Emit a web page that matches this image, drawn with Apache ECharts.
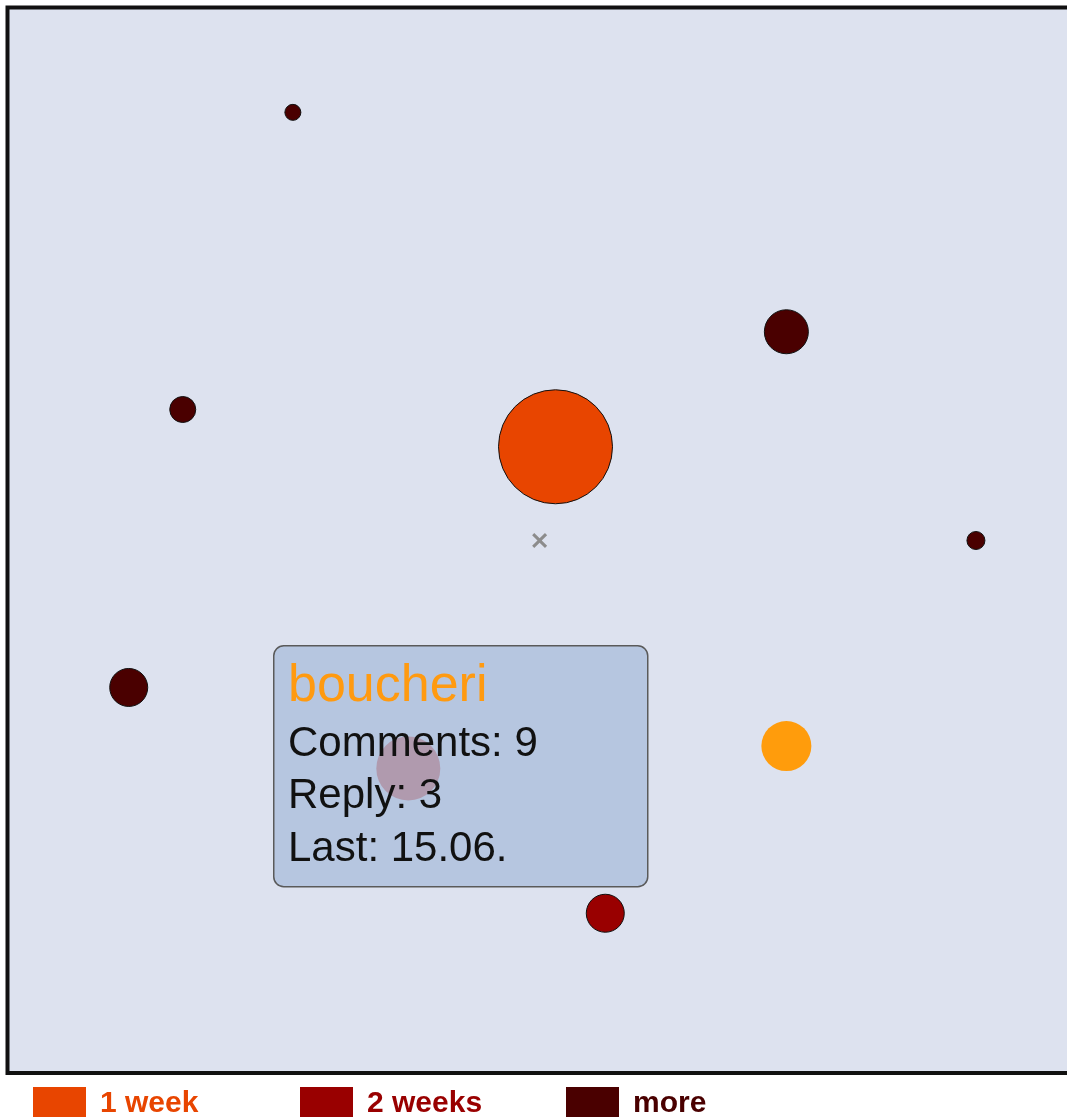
<!DOCTYPE html>
<html>
<head>
<meta charset="utf-8">
<script src="https://cdn.jsdelivr.net/npm/echarts@6/dist/echarts.min.js"></script>
<style>
  html, body { margin: 0; padding: 0; background: #fff; }
  #chart { width: 1067px; height: 1117px; }
</style>
</head>
<body>
<div id="chart"></div>
<script>
// age groups shown in the legend
const groups = ["1 week", "2 weeks", "more"];

// users: position in the field, bubble size, age group index
const pointX = [26.9, 16.5, 73.5, 51.7, 91.4, 11.4, 56.4];
const pointY = [90.2, 62.3, 69.6, 58.8, 50.0, 36.2, 15.0];
const pointSize = [16, 26, 44, 114, 18, 38, 38];
const pointGroup = [2, 2, 2, 0, 2, 2, 1];

// highlighted and hovered users, the centre mark
const selectedPoint = [73.5, 30.7, 50];
const hoverPoint = [37.8, 28.6, 64];
const centrePoint = [50.2, 50];

// tooltip text
const tipTitle = "boucheri";
const tipLines = ["Comments: 9", "Reply: 3", "Last: 15.06."];

const colors = ["#e84500", "#990000", "#4a0000"];
const font = "Liberation Sans, Arial, Helvetica, sans-serif";

const chart = echarts.init(document.getElementById("chart"));

const series = groups.map((g, gi) => ({
  name: g,
  type: "scatter",
  z: 3,
  data: pointX
    .map((x, i) => [x, pointY[i], pointSize[i], pointGroup[i]])
    .filter((d) => d[3] === gi),
  symbolSize: (d) => d[2],
  itemStyle: { color: colors[gi], borderColor: "#111", borderWidth: 1, opacity: 1 },
}));

series.push({
  name: "selected",
  type: "scatter",
  z: 3,
  data: [selectedPoint],
  symbolSize: (d) => d[2],
  itemStyle: { color: "#ff9c0c", opacity: 1 },
});

series.push({
  name: "hover",
  type: "scatter",
  z: 3,
  data: [hoverPoint],
  symbolSize: (d) => d[2],
  itemStyle: { color: "#b09aae", opacity: 1 },
});

series.push({
  name: "centre",
  type: "scatter",
  z: 3,
  data: [centrePoint],
  symbol: "path://M0,2L2,0L7,5L12,0L14,2L9,7L14,12L12,14L7,9L2,14L0,12L5,7Z",
  symbolSize: 15,
  itemStyle: { color: "#8c8c8c", opacity: 1 },
});

const legendLeft = [33, 300, 566];
const legends = groups.map((g, gi) => ({
  left: legendLeft[gi],
  top: 1087,
  padding: 0,
  icon: "rect",
  itemWidth: 53,
  itemHeight: 34,
  selectedMode: false,
  itemStyle: { borderWidth: 0 },
  data: [{ name: g, textStyle: { color: colors[gi] } }],
  textStyle: {
    fontFamily: font,
    fontSize: 30,
    fontWeight: "bold",
    padding: [0, 0, 0, 9],
  },
}));

const tipBaseY = [743, 795, 848];

const option = {
  animation: false,
  backgroundColor: "#ffffff",
  grid: {
    show: true,
    left: 8,
    top: 8,
    right: 0,
    bottom: 44,
    backgroundColor: "#dde2ef",
    borderWidth: 0,
  },
  xAxis: { type: "value", min: 0, max: 100, show: false },
  yAxis: { type: "value", min: 0, max: 100, show: false },
  legend: legends,
  tooltip: { show: false },
  graphic: [
    {
      // panel frame: left, top and bottom edges (right edge runs off the page)
      type: "polyline",
      z: 5,
      shape: { points: [[1080, 7.5], [7.5, 7.5], [7.5, 1073], [1080, 1073]] },
      style: { stroke: "#111", lineWidth: 4, fill: null },
    },
    {
      type: "rect",
      left: 273,
      top: 645,
      z: 1,
      shape: { width: 374, height: 241, r: 10 },
      style: { fill: "#b6c6e0", stroke: "#5a5a5a", lineWidth: 1.5 },
    },
    {
      type: "text",
      left: 288,
      top: 661,
      z: 10,
      style: { text: tipTitle, fill: "#ff9a10", font: "52px " + font },
    },
  ].concat(
    tipLines.map((t, i) => ({
      type: "text",
      left: 288,
      top: tipBaseY[i] - 20,
      z: 10,
      style: { text: t, fill: "#111", font: "42px " + font },
    }))
  ),
  series: series,
};

chart.setOption(option);
</script>
</body>
</html>
